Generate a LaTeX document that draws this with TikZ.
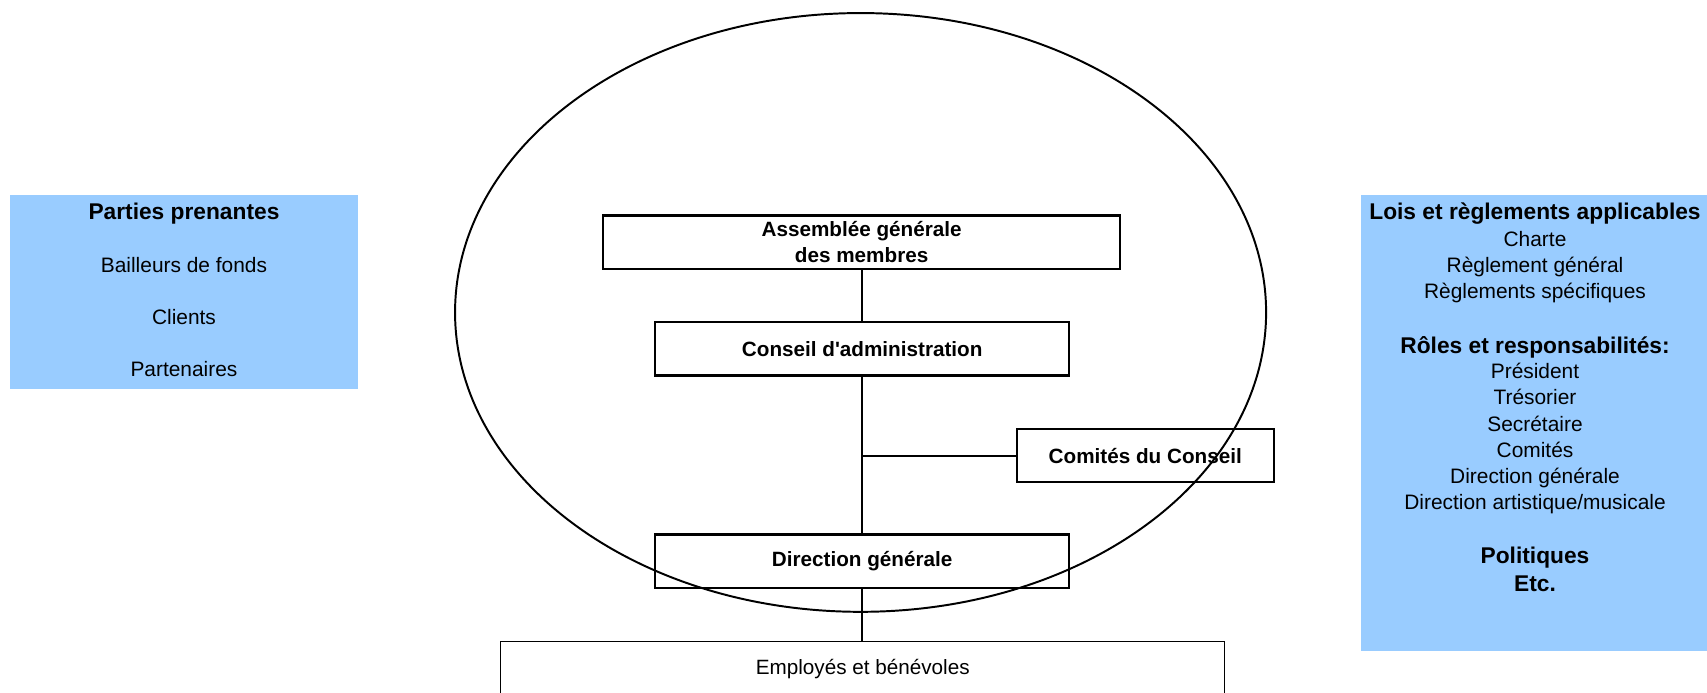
\documentclass[tikz,border=0pt]{standalone}
\usepackage{fontspec}
\setmainfont{Liberation Sans}[Ligatures=TeXOff]
\definecolor{paleblue}{HTML}{99CCFF}
\begin{document}
\begin{tikzpicture}[x=0.5pt,y=-0.5pt,
  txt/.style={inner sep=0pt, anchor=base, font=\fontsize{9.6pt}{12.1pt}\selectfont},
  hd/.style={inner sep=0pt, anchor=base, font=\fontsize{10.45pt}{12.1pt}\selectfont\bfseries},
  panel/.style={fill=paleblue, inner sep=0pt},
  orgbox/.style={draw, line width=1pt, fill=white, minimum height=24.5pt, inner sep=0pt, align=center, font=\fontsize{9.5pt}{12pt}\selectfont\bfseries},
  empbox/.style={draw, line width=0.5pt, fill=white, inner xsep=0pt, inner ysep=0pt, text height=15pt, text depth=30pt, font=\fontsize{9.5pt}{12pt}\selectfont},
  link/.style={line width=1pt},
  ring/.style={line width=0.9pt}]
\useasboundingbox (0,0) rectangle (1568,636);
% side panels
\node (lpanel) [panel, minimum width=160pt, minimum height=89pt] at (169,268) {};
\node (rpanel) [panel, minimum width=162pt, minimum height=209.5pt] at (1412,388.5) {};
% left panel text
\node (l1) [hd]  at (169,202) {Parties prenantes};
\node (l2) [txt] at (169,250) {Bailleurs de fonds};
\node (l3) [txt] at (169,298) {Clients};
\node (l4) [txt] at (169,346) {Partenaires};
% right panel text
\node (r1)  [hd]  at (1410,202) {Lois et règlements applicables};
\node (r2)  [txt] at (1410,226) {Charte};
\node (r3)  [txt] at (1410,250) {Règlement général};
\node (r4)  [txt] at (1410,274) {Règlements spécifiques};
\node (r5)  [hd]  at (1410,325) {Rôles et responsabilités:};
\node (r6)  [txt] at (1410,348) {Président};
\node (r7)  [txt] at (1410,372) {Trésorier};
\node (r8)  [txt] at (1410,396) {Secrétaire};
\node (r9)  [txt] at (1410,420) {Comités};
\node (r10) [txt] at (1410,444) {Direction générale};
\node (r11) [txt] at (1410,468) {Direction artistique/musicale};
\node (r12) [hd]  at (1410,518) {Politiques};
\node (r13) [hd]  at (1410,543) {Etc.};
% organisation boxes
\node (asm)  [orgbox, minimum width=237.5pt] at (791.5,222.5) {Assemblée générale\\des membres};
\node (cons) [orgbox, minimum width=190pt] at (792,320.5) {Conseil d'administration};
\node (com)  [orgbox, minimum width=118pt] at (1052,418.5) {Comités du Conseil};
\node (dg)   [orgbox, minimum width=190pt] at (792,515.5) {Direction générale};
\node (emp)  [empbox, minimum width=332.5pt, anchor=north] at (792.5,589) {Employés et bénévoles};
% connectors
\draw[link] (cons.north |- asm.south) -- (cons.north);
\draw[link] (cons.south) -- (dg.north);
\coordinate (junction) at (cons.south |- com.west);
\draw[link] (junction) -- (com.west);
\draw[link] (dg.south) -- (dg.south |- emp.north);
% governance ring
\draw[ring] (790.5,287) ellipse [x radius=186.25pt, y radius=137.5pt];
\end{tikzpicture}
\end{document}
